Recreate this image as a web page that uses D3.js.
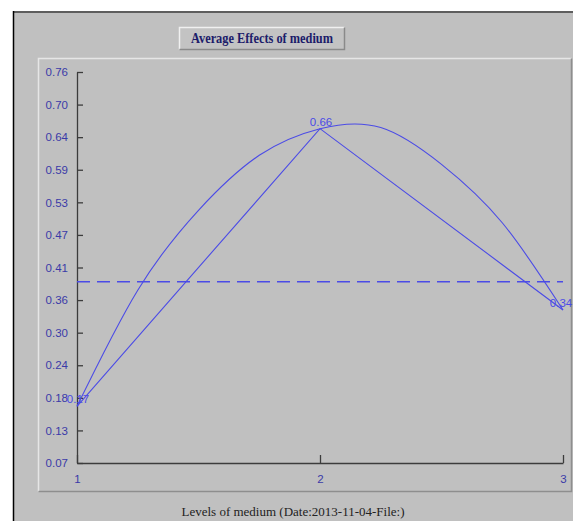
<!DOCTYPE html>
<html>
<head>
<meta charset="utf-8">
<script src="https://cdn.jsdelivr.net/npm/d3@7"></script>
<style>
  html, body { margin: 0; padding: 0; background: #fff; }
  svg { display: block; }
</style>
</head>
<body>
<div id="chart"></div>
<script>
// levels and averages
const levels = [1, 2, 3];
const means = [0.17, 0.66, 0.34];
const meanLabels = ["0.17", "0.66", "0.34"];
const grandMean = 0.39;

// smooth fitted curve
const curveX = [1, 1.25, 1.5, 1.75, 2, 2.25, 2.5, 2.75, 3];
const curveY = [0.17, 0.375, 0.516, 0.613, 0.66, 0.662, 0.597, 0.494, 0.34];

// axis labels
const yTickLabels = ["0.07", "0.13", "0.18", "0.24", "0.30", "0.36", "0.41",
  "0.47", "0.53", "0.59", "0.64", "0.70", "0.76"];
const xTickLabels = ["1", "2", "3"];
const chartTitle = "Average Effects of medium";
const xTitle = "Levels of medium (Date:2013-11-04-File:)";

const width = 573, height = 521;
const lineColor = "#4b4be6";
const labelColor = "#3a3aa8";

const svg = d3.select("#chart").append("svg")
  .attr("width", width)
  .attr("height", height);

// outer frame
svg.append("rect")
  .attr("x", 13).attr("y", 11)
  .attr("width", width - 13).attr("height", height - 11)
  .attr("fill", "#c0c0c0");
svg.append("line")
  .attr("x1", 13).attr("x2", width).attr("y1", 12).attr("y2", 12)
  .attr("stroke", "#5e5e5e").attr("stroke-width", 2);
svg.append("line")
  .attr("x1", 13.5).attr("x2", 13.5).attr("y1", 11).attr("y2", height)
  .attr("stroke", "#000").attr("stroke-width", 1.5);

// raised box helper
function bevel(x0, y0, x1, y1, light, dark) {
  svg.append("path")
    .attr("d", `M${x0},${y1} V${y0} H${x1}`)
    .attr("fill", "none").attr("stroke", light).attr("stroke-width", 1.5);
  svg.append("path")
    .attr("d", `M${x1},${y0} V${y1} H${x0}`)
    .attr("fill", "none").attr("stroke", dark).attr("stroke-width", 1.5);
}

// title box
svg.append("rect")
  .attr("x", 179).attr("y", 27).attr("width", 165).attr("height", 22)
  .attr("fill", "#c3c3c3");
bevel(179.5, 27.5, 344.5, 49.5, "#f0f0f0", "#8a8a8a");
svg.append("text")
  .attr("x", 262).attr("y", 43)
  .attr("text-anchor", "middle")
  .attr("font-family", "'Liberation Serif', 'Times New Roman', serif")
  .attr("font-weight", "bold")
  .attr("font-size", 14)
  .attr("textLength", 142)
  .attr("lengthAdjust", "spacingAndGlyphs")
  .attr("fill", "#1c1c6a")
  .text(chartTitle);

// inner panel
bevel(38.5, 58.5, 571.5, 491.5, "#e6e6e6", "#8e8e8e");

// scales
const x = d3.scaleLinear().domain([1, 3]).range([77, 563]);
const y = d3.scaleLinear().domain([0.07, 0.76]).range([463, 72]);
const yStep = (0.76 - 0.07) / (yTickLabels.length - 1);
const yTickValues = yTickLabels.map((d, i) => 0.07 + i * yStep);

const yAxis = svg.append("g")
  .attr("transform", `translate(${x(1)},0)`)
  .call(d3.axisLeft(y)
    .tickValues(yTickValues)
    .tickFormat((d, i) => yTickLabels[i])
    .tickSizeInner(-6)
    .tickSizeOuter(0)
    .tickPadding(9));

const xAxis = svg.append("g")
  .attr("transform", `translate(0,${y(0.07)})`)
  .call(d3.axisBottom(x)
    .tickValues(levels)
    .tickFormat((d, i) => xTickLabels[i])
    .tickSizeInner(-8)
    .tickSizeOuter(0)
    .tickPadding(12));

[yAxis, xAxis].forEach(g => {
  g.select(".domain").attr("stroke", "#3c3c3c").attr("stroke-width", 1.3);
  g.selectAll(".tick line").attr("stroke", "#3c3c3c").attr("stroke-width", 1.3);
  g.selectAll(".tick text")
    .attr("fill", labelColor)
    .attr("font-family", "Arial, 'Liberation Sans', sans-serif")
    .attr("font-size", 11.5);
});

// grand mean dashed line
svg.append("line")
  .attr("x1", x(1)).attr("x2", x(3))
  .attr("y1", y(grandMean)).attr("y2", y(grandMean))
  .attr("stroke", lineColor)
  .attr("stroke-width", 1.5)
  .attr("stroke-dasharray", "13,7");

// fitted curve
const curvePts = curveX.map((d, i) => [d, curveY[i]]);
svg.append("path")
  .datum(curvePts)
  .attr("fill", "none")
  .attr("stroke", lineColor)
  .attr("stroke-width", 1.1)
  .attr("d", d3.line().x(d => x(d[0])).y(d => y(d[1])).curve(d3.curveNatural));

// polyline of means
svg.append("path")
  .datum(levels.map((d, i) => [d, means[i]]))
  .attr("fill", "none")
  .attr("stroke", lineColor)
  .attr("stroke-width", 1.1)
  .attr("d", d3.line().x(d => x(d[0])).y(d => y(d[1])));

// value labels
svg.selectAll(".val")
  .data(levels)
  .enter()
  .append("text")
  .attr("class", "val")
  .attr("x", (d, i) => x(d) + (i === 2 ? -2 : 1))
  .attr("y", (d, i) => y(means[i]) - 3)
  .attr("text-anchor", "middle")
  .attr("font-family", "Arial, 'Liberation Sans', sans-serif")
  .attr("font-size", 11.5)
  .attr("fill", lineColor)
  .text((d, i) => meanLabels[i]);

// x axis title
svg.append("text")
  .attr("x", 293).attr("y", 516)
  .attr("text-anchor", "middle")
  .attr("font-family", "'Liberation Serif', 'Times New Roman', serif")
  .attr("font-size", 13)
  .attr("textLength", 223)
  .attr("lengthAdjust", "spacingAndGlyphs")
  .attr("fill", "#222")
  .text(xTitle);
</script>
</body>
</html>
